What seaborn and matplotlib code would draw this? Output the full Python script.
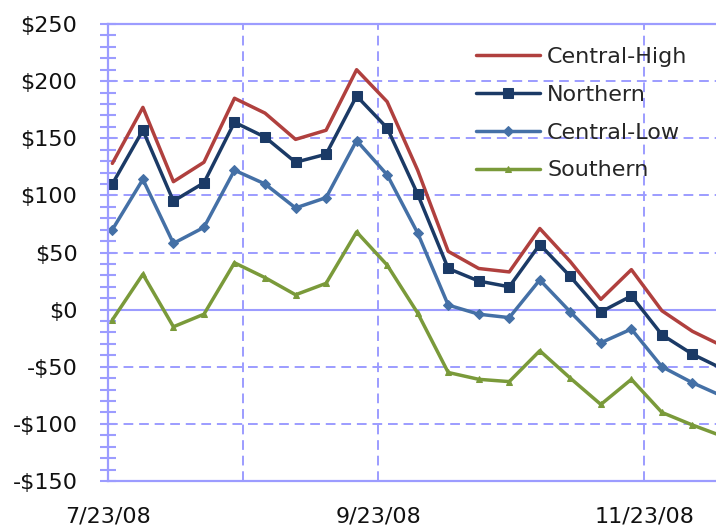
import matplotlib
matplotlib.use("Agg")
import matplotlib.pyplot as plt
import matplotlib.dates as mdates
from matplotlib.ticker import MultipleLocator, FuncFormatter, FixedLocator
import numpy as np
import pandas as pd
import seaborn as sns

# Weekly observations (Thursdays) starting 7/24/08
dates = pd.date_range("2008-07-24", periods=21, freq="7D")

central_high = [128, 177, 112, 129, 185, 172, 149, 157, 210, 182, 122,
                51, 36, 33, 71, 42, 9, 35, -1, -19, -32]
northern = [110, 157, 95, 111, 164, 151, 129, 136, 187, 159, 101,
            36, 25, 20, 57, 29, -2, 12, -22, -39, -52]
central_low = [70, 114, 58, 72, 122, 110, 89, 98, 148, 118, 67,
               4, -4, -7, 26, -2, -29, -17, -50, -64, -76]
southern = [-9, 31, -15, -4, 41, 28, 13, 23, 68, 39, -3,
            -55, -61, -63, -36, -60, -83, -61, -90, -101, -111]

series_names = ["Central-High", "Northern", "Central-Low", "Southern"]
series_values = [central_high, northern, central_low, southern]

label_dates = ["2008-07-23", "2008-09-23", "2008-11-23"]
label_texts = ["7/23/08", "9/23/08", "11/23/08"]
gridline_dates = ["2008-08-23", "2008-09-23", "2008-11-23"]

colors = {"Central-High": "#B0403E", "Northern": "#1B3A66",
          "Central-Low": "#4470A6", "Southern": "#7A9A3A"}
markers = {"Central-High": None, "Northern": "s", "Central-Low": "D", "Southern": "^"}
msizes = {"Central-High": 0, "Northern": 7, "Central-Low": 5.5, "Southern": 5}

sns.set_theme(style="white")
plt.rcParams["font.family"] = ["DejaVu Sans"]

grid_color = "#9C9CFF"

fig = plt.figure(figsize=(7.16, 5.27), dpi=100)
ax = fig.add_axes([108 / 716, 1 - 481 / 527, 1 - 108 / 716, (481 - 24) / 527])

for name, vals in zip(series_names, series_values):
    df = pd.DataFrame({"date": dates, "value": vals})
    sns.lineplot(data=df, x="date", y="value", ax=ax, color=colors[name],
                 marker=markers[name], markersize=msizes[name],
                 markeredgecolor=colors[name], linewidth=2.5, label=name,
                 clip_on=True)

# axes ranges
start = pd.Timestamp("2008-07-23")
ax.set_xlim(start, start + pd.Timedelta(days=139.4))
ax.set_ylim(-150, 250)

# y axis
ax.yaxis.set_major_locator(MultipleLocator(50))
ax.yaxis.set_minor_locator(MultipleLocator(10))
ax.yaxis.set_major_formatter(FuncFormatter(
    lambda v, p: f"-${abs(v):.0f}" if v < 0 else f"${v:.0f}"))
ax.tick_params(axis="y", which="major", direction="inout", length=12, width=1.5,
               color=grid_color, labelsize=16, labelcolor="#111111", pad=16, left=True)
ax.tick_params(axis="y", which="minor", direction="inout", length=11, width=1.5,
               color=grid_color, left=True)

# x axis: labels every two months, vertical guides at selected month marks
ax.set_xticks(mdates.date2num(pd.to_datetime(label_dates)))
ax.set_xticklabels(label_texts)
ax.xaxis.set_minor_locator(FixedLocator(mdates.date2num(pd.to_datetime(gridline_dates))))
ax.xaxis.remove_overlapping_locs = False
ax.tick_params(axis="x", which="both", length=0, labelsize=16, labelcolor="#111111", pad=18)

ax.set_xlabel("")
ax.set_ylabel("")

# gridlines
ax.grid(False)
ax.yaxis.grid(True, which="major", color=grid_color, linestyle=(0, (5, 3)), linewidth=1.4)
ax.xaxis.grid(True, which="minor", color=grid_color, linestyle=(0, (5, 3)), linewidth=1.4)
ax.axhline(0, color=grid_color, linewidth=1.5, zorder=1.5)
ax.set_axisbelow(True)

for side in ["left", "bottom", "top"]:
    ax.spines[side].set_color(grid_color)
    ax.spines[side].set_linewidth(1.6)
ax.spines["right"].set_visible(False)

leg = ax.legend(loc="upper left", bbox_to_anchor=(476 / 716, 1 - 47 / 527),
                bbox_transform=fig.transFigure, frameon=False, fontsize=16,
                handlelength=2.9, handletextpad=0.3, labelspacing=0.8,
                borderpad=0, borderaxespad=0, numpoints=1)
for line in leg.get_lines():
    line.set_linewidth(2.5)

fig.savefig("out.png", dpi=100, facecolor="white")
